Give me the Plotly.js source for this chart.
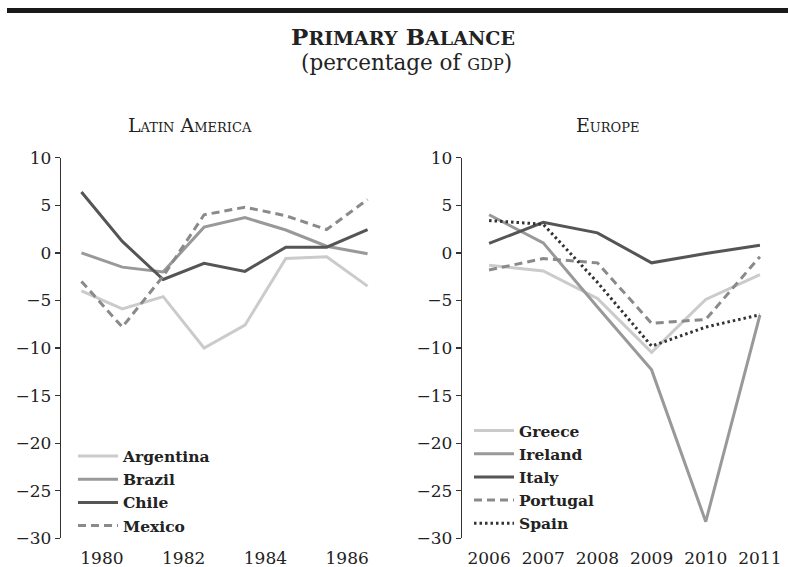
<!DOCTYPE html>
<html>
<head>
<meta charset="utf-8">
<script src="https://cdn.plot.ly/plotly-3.0.1.min.js"></script>
<style>html,body{margin:0;padding:0;background:#fff;}#chart{width:788px;height:567px;}</style>
</head>
<body>
<div id="chart"></div>
<script>
// ---- data ----
const latinYears = [1980, 1981, 1982, 1983, 1984, 1985, 1986, 1987];
const latinTickLabels = ['1980', '1982', '1984', '1986'];
const argentina = [-4.0, -5.9, -4.6, -10.0, -7.6, -0.6, -0.4, -3.5];
const brazil    = [0.0, -1.5, -2.0, 2.7, 3.7, 2.4, 0.7, -0.1];
const chile     = [6.4, 1.2, -2.8, -1.1, -1.95, 0.6, 0.6, 2.45];
const mexico    = [-3.0, -7.8, -2.45, 4.0, 4.8, 3.9, 2.45, 5.6];

const europeYears = [2006, 2007, 2008, 2009, 2010, 2011];
const europeTickLabels = ['2006', '2007', '2008', '2009', '2010', '2011'];
const greece   = [-1.3, -1.9, -4.8, -10.45, -4.9, -2.3];
const ireland  = [4.0, 1.05, -5.7, -12.3, -28.25, -6.55];
const italy    = [1.0, 3.2, 2.1, -1.05, -0.07, 0.8];
const portugal = [-1.8, -0.6, -1.05, -7.4, -7.0, -0.4];
const spain    = [3.4, 3.0, -3.1, -9.8, -7.8, -6.5];

const yTicks = [-30, -25, -20, -15, -10, -5, 0, 5, 10];

// ---- styling ----
const W = 788, H = 567;
const SERIF = 'DejaVu Serif';
const C_LIGHT = '#cbcbcb', C_MID = '#999999', C_DARK = '#555555', C_DASH = '#8a8a8a', C_DOT = '#333333';
const LW = 3;
const AX = '#333333';

const yDom = [1 - 538.3 / H, 1 - 157.7 / H];
const yRange = [-30, 10];
const zeroFrac = yDom[0] + (yDom[1] - yDom[0]) * (0 - yRange[0]) / (yRange[1] - yRange[0]);
const leftDom = [61 / W, 388 / W];
const rightDom = [462 / W, 787 / W];

function line(x, y, name, color, dash, xa, ya, legend) {
  return {
    type: 'scatter', mode: 'lines', x: x, y: y, name: name,
    xaxis: xa, yaxis: ya, legend: legend,
    line: {color: color, width: LW, dash: dash || 'solid'},
    hoverinfo: 'skip'
  };
}

const data = [
  line(latinYears, argentina, 'Argentina', C_LIGHT, 'solid', 'x', 'y', 'legend'),
  line(latinYears, brazil, 'Brazil', C_MID, 'solid', 'x', 'y', 'legend'),
  line(latinYears, chile, 'Chile', C_DARK, 'solid', 'x', 'y', 'legend'),
  line(latinYears, mexico, 'Mexico', C_DASH, '8px,5px', 'x', 'y', 'legend'),
  line(europeYears, greece, 'Greece', C_LIGHT, 'solid', 'x2', 'y2', 'legend2'),
  line(europeYears, ireland, 'Ireland', C_MID, 'solid', 'x2', 'y2', 'legend2'),
  line(europeYears, italy, 'Italy', C_DARK, 'solid', 'x2', 'y2', 'legend2'),
  line(europeYears, portugal, 'Portugal', C_DASH, '8px,5px', 'x2', 'y2', 'legend2'),
  line(europeYears, spain, 'Spain', C_DOT, '2.5px,3px', 'x2', 'y2', 'legend2')
];

const tickFont = {family: SERIF, size: 17, color: '#222'};
const legFont = {family: SERIF, size: 15.5, color: '#222', weight: 'bold'};

function yAxis(dom, anchor) {
  return {
    domain: dom, range: yRange, anchor: anchor, fixedrange: true,
    showgrid: false, zeroline: false, showline: true, linecolor: AX, linewidth: 1.3,
    ticks: 'outside', ticklen: 5, tickwidth: 1.3, tickcolor: AX,
    tickvals: yTicks, tickfont: tickFont
  };
}
function labelAxis(dom, range, anchor, vals, text) {
  return {
    domain: dom, range: range, anchor: anchor, fixedrange: true,
    showgrid: false, zeroline: false, showline: false,
    ticks: 'outside', ticklen: 4, tickcolor: 'rgba(0,0,0,0)',
    tickvals: vals, ticktext: text, tickfont: tickFont
  };
}
function zeroAxis(over, range, tick0, dtick) {
  return {
    overlaying: over, range: range, anchor: 'free', position: zeroFrac, fixedrange: true,
    showgrid: false, zeroline: false, showline: true, linecolor: AX, linewidth: 1.3,
    ticks: 'outside', ticklen: 6, tickwidth: 1.3, tickcolor: AX,
    tickmode: 'linear', tick0: tick0, dtick: dtick, showticklabels: false
  };
}

const latinRange = [latinYears[0] - 0.5, latinYears[latinYears.length - 1] + 0.5];
const euroRange = [europeYears[0] - 0.5, europeYears[europeYears.length - 1] + 0.5];
const latinLabelVals = latinTickLabels.map(s => Number(s) + 0.5);

const layout = {
  width: W, height: H,
  margin: {l: 0, r: 0, t: 0, b: 0},
  paper_bgcolor: '#fff', plot_bgcolor: 'rgba(0,0,0,0)',
  showlegend: true,
  hovermode: false,
  title: {
    text: 'P<span style="font-size:19px">RIMARY</span> B<span style="font-size:19px">ALANCE</span>',
    font: {family: SERIF, size: 23, color: '#222', weight: 'bold'},
    x: 403 / W, xanchor: 'center', y: 1 - 37 / H, yanchor: 'middle'
  },
  xaxis: labelAxis(leftDom, latinRange, 'y', latinLabelVals, latinTickLabels),
  yaxis: yAxis(yDom, 'x'),
  xaxis2: labelAxis(rightDom, euroRange, 'y2', europeYears, europeTickLabels),
  yaxis2: yAxis(yDom, 'x2'),
  xaxis3: zeroAxis('x', latinRange, latinYears[0] + 1.5, 2),
  xaxis4: zeroAxis('x2', euroRange, europeYears[0] + 0.5, 1),
  legend: {
    x: 73 / W, xanchor: 'left', y: 1 - 439.5 / H, yanchor: 'top',
    bgcolor: 'rgba(0,0,0,0)', borderwidth: 0, font: legFont, itemwidth: 40
  },
  legend2: {
    x: 469 / W, xanchor: 'left', y: 1 - 414 / H, yanchor: 'top',
    bgcolor: 'rgba(0,0,0,0)', borderwidth: 0, font: legFont, itemwidth: 40
  },
  shapes: [{
    type: 'rect', xref: 'paper', yref: 'paper',
    x0: 7 / W, x1: 1, y0: 1 - 13 / H, y1: 1 - 8 / H,
    fillcolor: '#1a1a1a', line: {width: 0}
  }],
  annotations: [
    {text: '(percentage of <span style="font-size:16px">GDP</span>)', xref: 'paper', yref: 'paper',
     x: 406 / W, y: 1 - 62 / H, xanchor: 'center', yanchor: 'middle', showarrow: false,
     font: {family: SERIF, size: 21.5, color: '#222'}},
    {text: 'Latin America', xref: 'paper', yref: 'paper',
     x: 190 / W, y: 1 - 125 / H, xanchor: 'center', yanchor: 'middle', showarrow: false,
     font: {family: SERIF, size: 19, color: '#222', variant: 'small-caps'}},
    {text: 'Europe', xref: 'paper', yref: 'paper',
     x: 608 / W, y: 1 - 125 / H, xanchor: 'center', yanchor: 'middle', showarrow: false,
     font: {family: SERIF, size: 19, color: '#222', variant: 'small-caps'}}
  ]
};

Plotly.newPlot('chart', data, layout, {displayModeBar: false, staticPlot: true});
</script>
</body>
</html>
